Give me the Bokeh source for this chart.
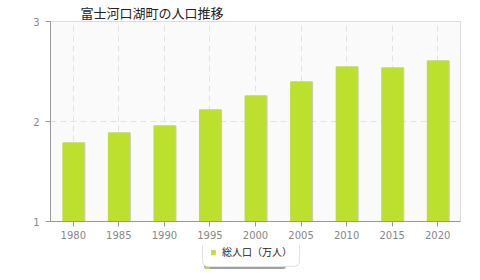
from bokeh.plotting import figure
from bokeh.layouts import column
from bokeh.models import ColumnDataSource, FixedTicker, Legend, LegendItem, Range1d
from bokeh.transform import dodge
from bokeh.embed import file_html
from bokeh.resources import INLINE

years = ["1980", "1985", "1990", "1995", "2000", "2005", "2010", "2015", "2020"]
population = [1.79, 1.89, 1.96, 2.12, 2.26, 2.40, 2.55, 2.54, 2.61]
y_ticks = [1, 2, 3]
title_text = "富士河口湖町の人口推移"
series_name = "総人口（万人）"
bar_color = "#bce02e"

src = ColumnDataSource(dict(year=years, pop=population))

p = figure(frame_width=410, frame_height=200, x_range=years, y_range=Range1d(1, 3),
           output_backend="svg", toolbar_location=None,
           min_border_left=50, min_border_right=20, min_border_top=20, min_border_bottom=24)

p.title.text = title_text
p.title.text_font = "Noto Sans CJK JP"
p.title.text_font_size = "13px"
p.title.text_font_style = "normal"
p.title.text_color = "#222222"
p.title.offset = 30
p.title.standoff = 0

p.background_fill_color = "#fafafa"
p.border_fill_color = "white"
p.outline_line_color = "#dddddd"

# shadow
p.vbar(x=dodge("year", 0.025, range=p.x_range), top="pop", bottom=1, width=0.48, source=src,
       fill_color="#a9a9a9", line_color=None, fill_alpha=0.6)
r = p.vbar(x="year", top="pop", bottom=1, width=0.48, source=src,
           fill_color=bar_color, line_color=None)

p.yaxis.ticker = FixedTicker(ticks=y_ticks)
p.yaxis.minor_tick_line_color = None
p.yaxis.major_tick_out = 5
p.yaxis.major_tick_in = 0
p.xaxis.major_tick_out = 5
p.xaxis.major_tick_in = 0
for ax in (p.xaxis, p.yaxis):
    ax.axis_line_color = "#999999"
    ax.major_tick_line_color = "#999999"
    ax.major_label_text_color = "#888888"
    ax.major_label_text_font = "DejaVu Sans"
    ax.major_label_text_font_size = "10px"
p.yaxis.major_label_standoff = 6
p.xaxis.major_label_standoff = 4

p.xgrid.grid_line_color = "#e3e3e3"
p.xgrid.grid_line_dash = "6 4"
p.ygrid.ticker = FixedTicker(ticks=[2])
p.ygrid.grid_line_color = "#e3e3e3"
p.ygrid.grid_line_dash = "6 4"

# legend strip below the chart
p2 = figure(width=480, height=36, output_backend="svg", toolbar_location=None,
            x_range=Range1d(0, 1), y_range=Range1d(0, 1),
            min_border=0, outline_line_color=None)
p2.axis.visible = False
p2.grid.visible = False
dummy = p2.vbar(x=[float("nan")], top=[float("nan")], width=0.1,
                fill_color=bar_color, line_color=None)

common = dict(orientation="horizontal",
              label_text_font="Noto Sans CJK JP", label_text_font_size="10px",
              glyph_width=6, glyph_height=6, label_height=6, label_standoff=6,
              padding=7, margin=0, spacing=0, border_radius=6)

shadow = Legend(items=[LegendItem(label=" ", renderers=[dummy])],
                location=(154, 12), label_width=70, label_text_alpha=0.0,
                border_line_color=None, background_fill_color="#a0a0a0",
                background_fill_alpha=1.0, **common)
p2.add_layout(shadow, "center")
legend = Legend(items=[LegendItem(label=series_name, renderers=[dummy])],
                location=(152, 14), label_text_color="#222222",
                border_line_color="#c8c8c8", border_line_width=1,
                background_fill_color="white", background_fill_alpha=1.0, **common)
p2.add_layout(legend, "center")

layout = column(p, p2, spacing=0)
open("out.html", "w").write(file_html(layout, INLINE))
